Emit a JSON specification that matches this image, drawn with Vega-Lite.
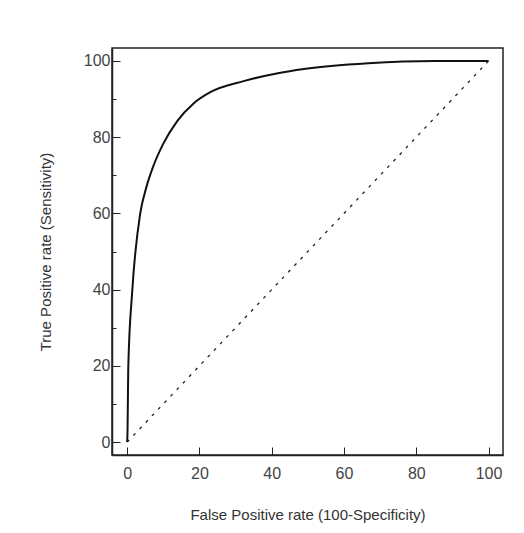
{
  "$schema": "https://vega.github.io/schema/vega-lite/v6.json",
  "width": 391,
  "height": 407,
  "autosize": {"type": "none"},
  "padding": {"left": 112, "top": 48, "right": 21, "bottom": 78},
  "background": "white",
  "config": {
    "view": {"stroke": "#222", "strokeWidth": 1.5},
    "font": "Liberation Sans",
    "axis": {
      "domainColor": "#222",
      "domainWidth": 1.5,
      "tickColor": "#222",
      "grid": false,
      "labelFont": "Liberation Sans",
      "labelFontSize": 16,
      "labelColor": "#444",
      "titleFont": "Liberation Sans",
      "titleFontSize": 15,
      "titleFontWeight": "normal",
      "titleColor": "#333"
    }
  },
  "datasets": {
    "roc": [
      {"fpr": 0, "tpr": 0},
      {"fpr": 0.1, "tpr": 3},
      {"fpr": 0.3, "tpr": 19.5},
      {"fpr": 1.4, "tpr": 39.6},
      {"fpr": 3.6, "tpr": 59.9},
      {"fpr": 5.2, "tpr": 66.5},
      {"fpr": 7.2, "tpr": 72.3},
      {"fpr": 10, "tpr": 78.3},
      {"fpr": 13.9, "tpr": 84.3},
      {"fpr": 18.3, "tpr": 88.8},
      {"fpr": 23, "tpr": 91.8},
      {"fpr": 32.2, "tpr": 94.7},
      {"fpr": 41.7, "tpr": 96.8},
      {"fpr": 48.9, "tpr": 97.9},
      {"fpr": 66.7, "tpr": 99.4},
      {"fpr": 85, "tpr": 100},
      {"fpr": 100, "tpr": 100}
    ],
    "diag": [
      {"fpr": 0, "tpr": 0},
      {"fpr": 100, "tpr": 100}
    ]
  },
  "layer": [
    {
      "data": {"name": "diag"},
      "mark": {"type": "line", "color": "#222", "strokeWidth": 1.3, "strokeDash": [3, 6]},
      "encoding": {
        "x": {
          "field": "fpr", "type": "quantitative",
          "scale": {"domain": [-4.2, 104], "nice": false, "zero": false},
          "axis": {
            "title": "False Positive rate (100-Specificity)",
            "values": [0, 5, 10, 15, 20, 25, 30, 35, 40, 45, 50, 55, 60, 65, 70, 75, 80, 85, 90, 95, 100],
            "labelExpr": "datum.value % 20 === 0 ? datum.label : ''",
            "tickSize": {"condition": {"test": "datum.value % 20 === 0", "value": -8}, "value": -4},
            "labelPadding": 18,
            "titlePadding": 26
          }
        },
        "y": {
          "field": "tpr", "type": "quantitative",
          "scale": {"domain": [-3.4, 103.4], "nice": false, "zero": false},
          "axis": {
            "title": "True Positive rate (Sensitivity)",
            "values": [0, 5, 10, 15, 20, 25, 30, 35, 40, 45, 50, 55, 60, 65, 70, 75, 80, 85, 90, 95, 100],
            "labelExpr": "datum.value % 20 === 0 ? datum.label : ''",
            "tickSize": {"condition": {"test": "datum.value % 20 === 0", "value": -8}, "value": -4},
            "labelPadding": 10,
            "titlePadding": 30
          }
        }
      }
    },
    {
      "data": {"name": "roc"},
      "mark": {"type": "line", "color": "#111", "strokeWidth": 2, "interpolate": "monotone"},
      "encoding": {
        "x": {"field": "fpr", "type": "quantitative"},
        "y": {"field": "tpr", "type": "quantitative"}
      }
    }
  ]
}
